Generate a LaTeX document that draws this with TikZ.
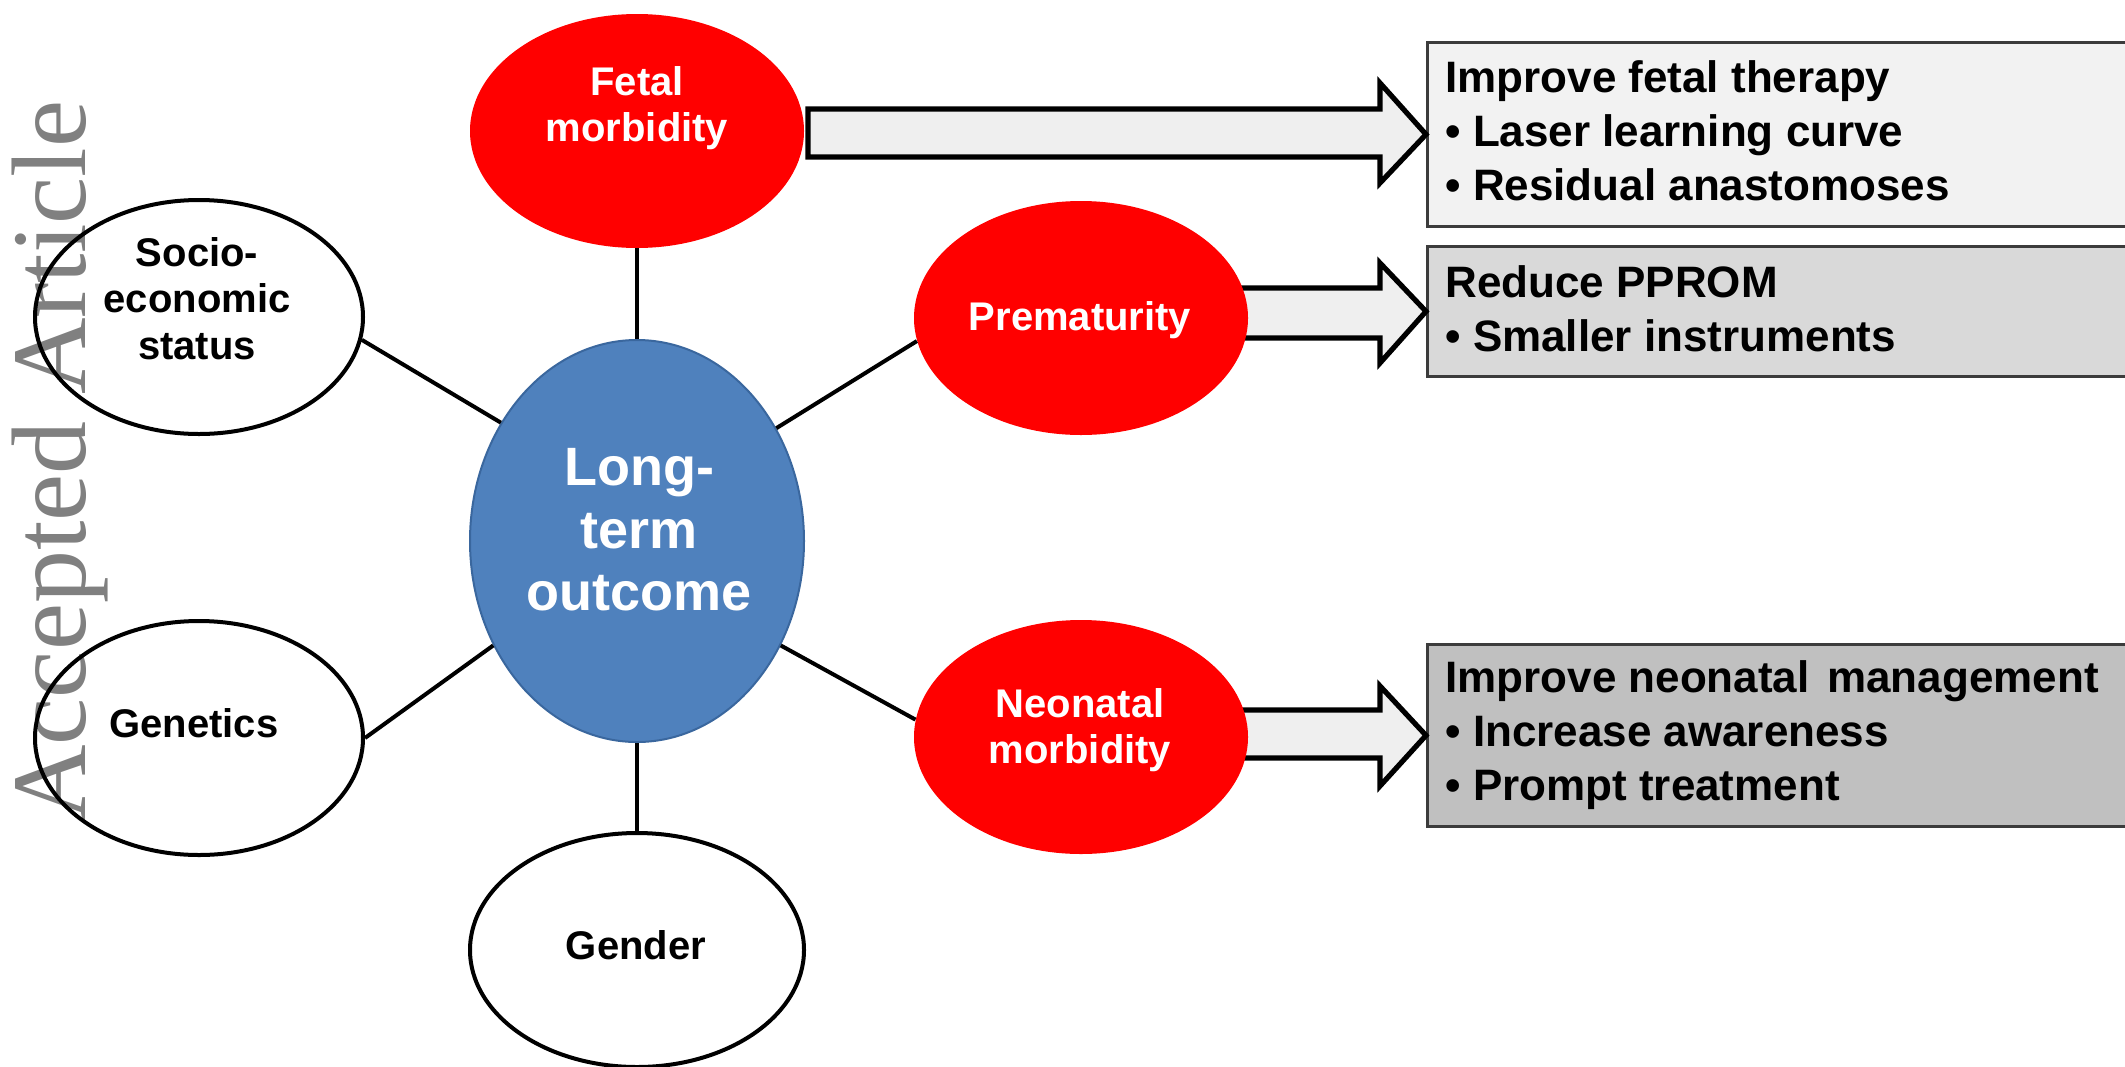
\documentclass[tikz,border=0pt]{standalone}
\usepackage{fontspec}
\setmainfont{Liberation Sans}
\newfontfamily\wmfont{Liberation Serif}
\usetikzlibrary{shapes.geometric}
\definecolor{wmgray}{HTML}{808080}
\definecolor{arrowgray}{HTML}{EFEFEF}
\definecolor{boxedge}{HTML}{3C3C3C}
\definecolor{boxone}{HTML}{F2F2F2}
\definecolor{boxtwo}{HTML}{D9D9D9}
\definecolor{boxthree}{HTML}{C0C0C0}
\definecolor{ltblue}{HTML}{4F81BD}
\definecolor{ltblueedge}{HTML}{3A679E}
\definecolor{fred}{HTML}{FF0000}
\begin{document}
\begin{tikzpicture}[x=0.5pt,y=-0.5pt,
  ell/.style={ellipse, inner sep=0pt},
  redell/.style={ell, fill=fred, minimum width=167pt, minimum height=117pt},
  whiteell/.style={ell, draw=black, line width=2pt, minimum height=117pt},
  conn/.style={line width=2pt, draw=black},
  blockarrow/.style={draw=black, line width=2.6pt, fill=arrowgray, line join=miter},
  infobox/.style={rectangle, draw=boxedge, line width=1.4pt, inner sep=0pt, anchor=north west, minimum width=357pt},
  wtext/.style={text=white, font=\bfseries\fontsize{20}{23.25}\selectfont, align=center, anchor=north, inner sep=0pt},
  btext/.style={wtext, text=black},
  boxtext/.style={font=\bfseries\fontsize{22}{27}\selectfont, align=left, anchor=north west, inner sep=0pt},
]
\useasboundingbox (0,0) rectangle (2125,1066);
\clip (0,0) rectangle (2125,1066);

% watermark
\node[font=\wmfont\fontsize{53}{53}\selectfont, text=wmgray, rotate=90, anchor=base west, inner sep=0pt] (wm) at (85,822) {Accepted Article};

% boxes
\node[infobox, fill=boxone, minimum height=92pt] (box1) at (1426,41) {};
\node[infobox, fill=boxtwo, minimum height=65pt] (box2) at (1426,245) {};
\node[infobox, fill=boxthree, minimum height=91pt] (box3) at (1426,643) {};

% block arrows
\draw[blockarrow] (808,109) -- (1380,109) -- (1380,83) -- (box1.west) -- (1380,183) -- (1380,157) -- (808,157) -- cycle;
\draw[blockarrow] (1200,288) -- (1380,288) -- (1380,263) -- (box2.west) -- (1380,363) -- (1380,338) -- (1200,338) -- cycle;
\draw[blockarrow] (1200,710) -- (1380,710) -- (1380,686) -- (box3.west) -- (1380,786) -- (1380,758) -- (1200,758) -- cycle;

% ellipses
\node[redell] (fetal) at (637,131) {};
\node[redell] (prem) at (1081,318) {};
\node[redell] (neo) at (1081,737) {};
\node[whiteell, minimum width=164pt] (socio) at (199,317) {};
\node[whiteell, minimum width=164pt] (gen) at (199,738) {};
\node[whiteell, minimum width=167pt] (gender) at (637,950) {};
\node[ell, fill=ltblue, draw=ltblueedge, line width=1pt, minimum width=167pt, minimum height=201pt] (long) at (637,541) {};

% connectors
\draw[conn] (fetal.south) -- (long.north);
\draw[conn] (long.south) -- (gender.north);
\draw[conn] (socio.352) -- (long.139.5);
\draw[conn] (gen.0) -- (long.216);
\draw[conn] (prem.188.6) -- (long.39.7);
\draw[conn] (neo.174.5) -- (long.324.8);

% texts
\node[wtext] (tfetal) at (637,66) {Fetal\\morbidity};
\node[wtext] (tprem) at (1080,301) {Prematurity};
\node[wtext] (tneo) at (1080,688) {Neonatal\\morbidity};
\node[btext] (tsocio) at (197,237) {Socio-\\economic\\status};
\node[btext] (tgen) at (194,708) {Genetics};
\node[btext] (tgender) at (636,930) {Gender};
\node[text=white, font=\bfseries\fontsize{27}{31.25}\selectfont, align=center, anchor=north, inner sep=0pt] (tlong) at (639,448) {Long-\\term\\outcome};

\node[boxtext] (tbox1) at (1445,60) {Improve fetal therapy\\• Laser learning curve\\• Residual anastomoses};
\node[boxtext] (tbox2) at (1445,265) {Reduce PPROM\\• Smaller instruments};
\node[boxtext] (tbox3) at (1445,660) {Improve neonatal\hspace{0.4em}management\\• Increase awareness\\• Prompt treatment};
\end{tikzpicture}
\end{document}
